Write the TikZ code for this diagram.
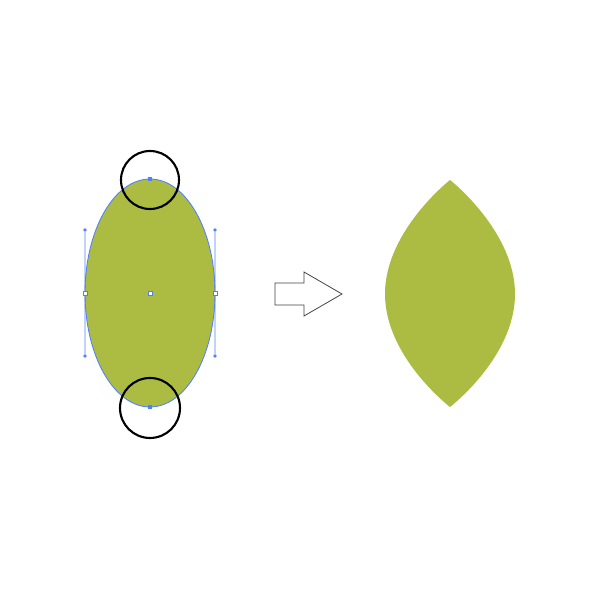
\documentclass[tikz,border=0pt]{standalone}
\usepackage{tikz}
\usetikzlibrary{shapes.geometric}

\definecolor{leafgreen}{RGB}{172,187,66}
\definecolor{selblue}{RGB}{80,128,255}

\begin{document}
\begin{tikzpicture}[x=0.05cm,y=0.05cm,
    anchorpt/.style={rectangle,draw=selblue,fill=white,line width=0.8pt,inner sep=0pt,minimum size=5.5pt},
    selpt/.style={rectangle,fill=selblue,inner sep=0pt,minimum size=6.5pt},
    handledot/.style={circle,fill=selblue,inner sep=0pt,minimum size=5.5pt},
    marker/.style={circle,draw=black,line width=3pt,inner sep=0pt}]

      \useasboundingbox (0,0) rectangle (600,600);

      % ellipse before
      \node[ellipse,draw=selblue,fill=leafgreen,line width=1.2pt,inner sep=0pt,outer sep=0pt,minimum width=6.5cm,minimum height=11.4cm] (E) at (150,307){};
      \node[selpt] (top) at (E.north){};
      \node[selpt] (bot) at (E.south){};
      \node[anchorpt] (lft) at (E.west){};
      \node[anchorpt] (rgt) at (E.east){};
      \node[anchorpt] (mid) at (E.center){};
      \node[handledot] (lu) at (85,370){};
      \node[handledot] (ld) at (85,244){};
      \node[handledot] (ru) at (215,370){};
      \node[handledot] (rd) at (215,244){};

      \draw[selblue,line width=1.3pt] (lu) -- (lft) -- (ld);
      \draw[selblue,line width=1.3pt] (ru) -- (rgt) -- (rd);

      % circles on the points to convert
      \node[marker,minimum size=2.9cm] (ct) at (150,420){};
      \node[marker,minimum size=3cm] (cb) at (150,192){};

      % arrow
      \draw[black!75,line width=1.1pt] (275,317) -- (304,317) -- (304,328) -- (342,306)
        -- (304,284) -- (304,295) -- (275,295) -- cycle;

      % result
      \fill[leafgreen] (450,420) .. controls (450,420) and (515,369) .. (515,306)
        .. controls (515,243) and (450,193) .. (450,193)
        .. controls (450,193) and (385,243) .. (385,306)
        .. controls (385,369) and (450,420) .. (450,420) -- cycle;

    \end{tikzpicture}
\end{document}
